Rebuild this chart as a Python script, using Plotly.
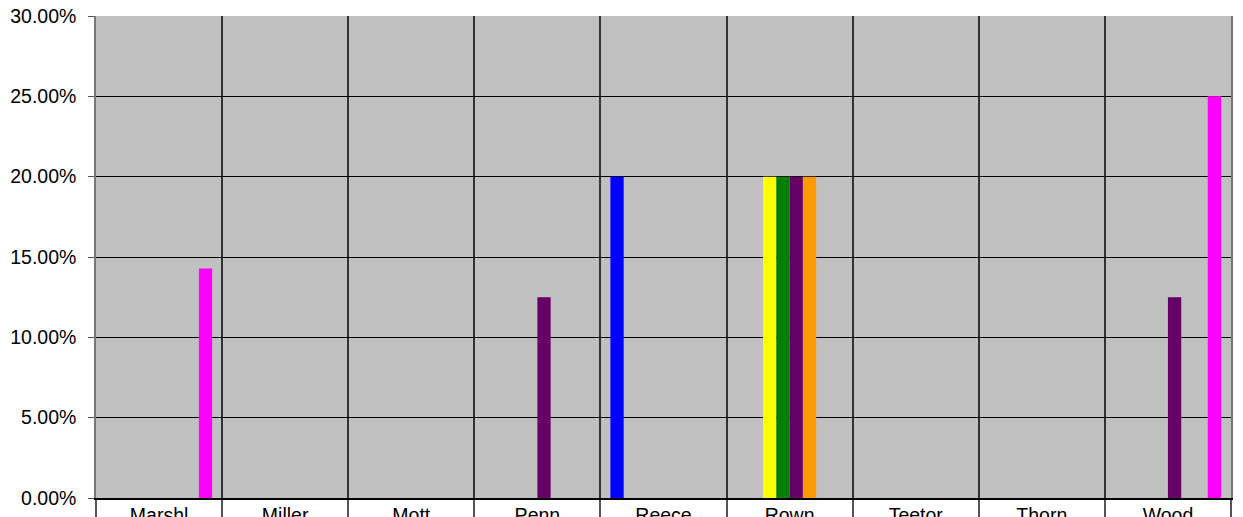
import plotly.graph_objects as go

categories = ["Marshl", "Miller", "Mott", "Penn", "Reece", "Rown", "Teetor", "Thorn", "Wood"]

series_names = ["S1", "S2", "S3", "S4", "S5", "S6", "S7", "S8"]
s1 = [0, 0, 0, 0, 0.20, 0, 0, 0, 0]
s2 = [0, 0, 0, 0, 0, 0, 0, 0, 0]
s3 = [0, 0, 0, 0, 0, 0.20, 0, 0, 0]
s4 = [0, 0, 0, 0, 0, 0.20, 0, 0, 0]
s5 = [0, 0, 0, 0.125, 0, 0.20, 0, 0, 0.125]
s6 = [0, 0, 0, 0, 0, 0.20, 0, 0, 0]
s7 = [0, 0, 0, 0, 0, 0, 0, 0, 0]
s8 = [1 / 7, 0, 0, 0, 0, 0, 0, 0, 0.25]
series_values = [s1, s2, s3, s4, s5, s6, s7, s8]
colors = ["#0000FF", "#FF0000", "#FFFF00", "#008000", "#660066", "#FF9900", "#00FFFF", "#FF00FF"]

fig = go.Figure()
for name, vals, col in zip(series_names, series_values, colors):
    fig.add_trace(go.Bar(x=categories, y=vals, name=name, marker=dict(color=col, line=dict(width=0))))

font = dict(family="Liberation Sans, Arial, sans-serif", size=19.5, color="black")
# page body has an 8px margin, so the figure is shifted right/down by 8px
fig.update_layout(
    width=1243, height=517,
    margin=dict(l=88, r=20, t=8, b=27),
    paper_bgcolor="white", plot_bgcolor="#C0C0C0",
    barmode="group", bargap=1.5 / 9.5, bargroupgap=0,
    showlegend=False, font=font,
)
fig.update_xaxes(
    type="category", tickson="boundaries", ticks="outside", ticklen=20, tickcolor="#555555", tickwidth=1.5,
    showgrid=True, gridcolor="#333333", gridwidth=1.5,
    showline=True, linecolor="black", linewidth=1.5, mirror=False,
    ticklabelstandoff=-1, tickfont=font, automargin=False, ticklabeloverflow="allow",
)
fig.update_yaxes(
    range=[0, 0.3], dtick=0.05, tick0=0, tickformat=".2%",
    ticks="outside", ticklen=6, tickcolor="#555555",
    showgrid=True, gridcolor="black", gridwidth=1,
    showline=True, linecolor="#777777", linewidth=1.5, mirror=True,
    zeroline=False, tickfont=font, automargin=False, ticklabelstandoff=8,
    ticklabeloverflow="allow",
)
fig.write_html("out.html")
